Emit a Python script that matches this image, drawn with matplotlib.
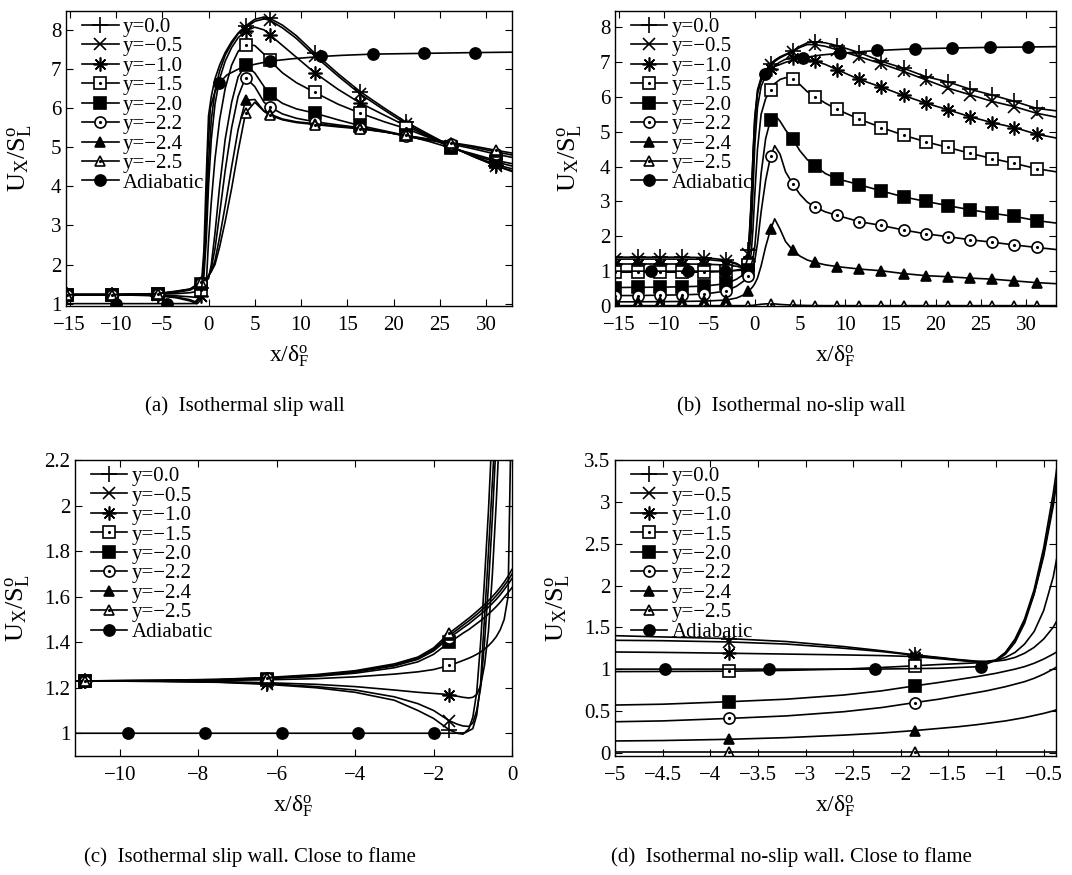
import matplotlib
matplotlib.use('Agg')
import matplotlib.pyplot as plt
from matplotlib.ticker import FuncFormatter

plt.rcParams['font.family'] = ['Liberation Serif', 'DejaVu Serif']
plt.rcParams['mathtext.fontset'] = 'custom'
plt.rcParams['mathtext.rm'] = 'Liberation Serif'
plt.rcParams['mathtext.it'] = 'Liberation Serif:italic'

labels = ['y=0.0', 'y=\u22120.5', 'y=\u22121.0', 'y=\u22121.5', 'y=\u22122.0',
          'y=\u22122.2', 'y=\u22122.4', 'y=\u22122.5', 'Adiabatic']

# ---- (a) isothermal slip wall ----
xa = [-15.3, -10.4, -5.5, -3.5, -2.0, -1.3, -0.8, -0.5, -0.25, 0.0, 0.3, 0.7, 1.2, 1.8, 2.5, 3.2,
      4.0, 5.0, 6.0, 6.6, 8.0, 9.5, 11.5, 14.0, 16.4, 19.0, 21.3, 23.8, 26.2, 28.6, 31.1, 32.8]
a_mark = [0, 1, 2, 6, 16, 19, 22, 24, 26, 28, 30]
a_y00 = [1.23, 1.23, 1.20, 1.15, 1.07, 1.0, 1.4, 2.35, 4.2, 5.8, 6.3, 6.75, 7.1, 7.42, 7.7, 7.92,
         8.1, 8.27, 8.33, 8.3, 8.12, 7.85, 7.4, 6.88, 6.42, 6.0, 5.65, 5.33, 5.03, 4.77, 4.52, 4.38]
a_y05 = [1.23, 1.23, 1.21, 1.17, 1.10, 1.035, 1.2, 1.95, 3.0, 4.6, 5.7, 6.45, 6.95, 7.35, 7.65, 7.9,
         8.05, 8.22, 8.28, 8.25, 8.05, 7.78, 7.33, 6.82, 6.36, 5.95, 5.6, 5.3, 5.02, 4.76, 4.52, 4.4]
a_y10 = [1.23, 1.23, 1.215, 1.20, 1.175, 1.16, 1.2, 1.7, 2.6, 4.0, 5.2, 6.1, 6.75, 7.2, 7.55, 7.8,
         7.97, 8.07, 8.0, 7.88, 7.6, 7.3, 6.9, 6.48, 6.13, 5.82, 5.55, 5.27, 5.0, 4.78, 4.55, 4.45]
a_y15 = [1.23, 1.23, 1.24, 1.255, 1.28, 1.31, 1.357, 1.403, 1.48, 2.6, 3.6, 4.7, 5.7, 6.5, 7.1, 7.45,
         7.62, 7.6, 7.38, 7.22, 6.9, 6.65, 6.4, 6.1, 5.87, 5.65, 5.48, 5.25, 5.0, 4.8, 4.62, 4.52]
a_y20 = [1.23, 1.23, 1.25, 1.29, 1.347, 1.43, 1.495, 1.54, 1.585, 1.64, 2.0, 2.8, 4.0, 5.2, 6.15, 6.8,
         7.1, 6.9, 6.55, 6.35, 6.12, 5.98, 5.87, 5.7, 5.55, 5.42, 5.3, 5.15, 4.98, 4.83, 4.66, 4.58]
a_y22 = [1.23, 1.23, 1.253, 1.30, 1.362, 1.455, 1.523, 1.571, 1.62, 1.68, 1.9, 2.4, 3.3, 4.4, 5.5, 6.3,
         6.78, 6.55, 6.15, 6.03, 5.85, 5.74, 5.65, 5.57, 5.5, 5.4, 5.28, 5.18, 5.08, 4.96, 4.82, 4.74]
a_y24 = [1.23, 1.23, 1.255, 1.31, 1.368, 1.47, 1.537, 1.586, 1.64, 1.70, 1.83, 2.1, 2.7, 3.5, 4.5, 5.45,
         6.2, 6.22, 5.92, 5.85, 5.72, 5.65, 5.6, 5.54, 5.48, 5.39, 5.3, 5.2, 5.1, 5.0, 4.88, 4.8]
a_y25 = [1.23, 1.23, 1.258, 1.32, 1.375, 1.48, 1.55, 1.601, 1.65, 1.72, 1.82, 2.0, 2.45, 3.1, 3.95, 4.9,
         5.87, 6.15, 5.92, 5.82, 5.7, 5.63, 5.58, 5.52, 5.47, 5.39, 5.3, 5.21, 5.12, 5.03, 4.92, 4.85]
xa_ad = [-15.4, -10.05, -4.45, -1.2, -0.9, -0.7, -0.47, -0.3, -0.1, 0.2, 0.6, 1.1, 2.0, 3.5, 5.0,
         6.65, 9.0, 12.2, 14.5, 17.75, 23.3, 28.85, 32.8]
a_ad = [1.0, 1.0, 1.0, 1.002, 1.08, 1.5, 2.2, 3.1, 4.8, 6.0, 6.35, 6.63, 6.85, 7.03, 7.12,
        7.2, 7.26, 7.32, 7.35, 7.38, 7.4, 7.42, 7.43]
a_ad_mark = [1, 2, 11, 15, 17, 19, 20, 21]

# ---- (b) isothermal no-slip wall ----
xb = [-15.4, -12.95, -10.5, -8.05, -5.6, -3.15, -2.0, -1.2, -0.7, -0.4, -0.2, 0.0, 0.3, 0.7, 1.2,
      1.75, 2.2, 2.8, 3.4, 4.2, 5.0, 5.8, 6.65, 7.8, 9.1, 11.55, 14.0, 16.45, 18.9, 21.35, 23.8,
      26.25, 28.7, 31.15, 33.3]
b_mark = [0, 1, 2, 3, 4, 5, 8, 15, 19, 22, 24, 25, 26, 27, 28, 29, 30, 31, 32, 33]
b_y00 = [1.40, 1.40, 1.40, 1.40, 1.39, 1.32, 1.22, 1.095, 1.6, 3.0, 4.3, 5.4, 6.2, 6.55, 6.75,
         6.95, 7.05, 7.15, 7.22, 7.32, 7.45, 7.55, 7.58, 7.55, 7.47, 7.27, 7.02, 6.82, 6.58, 6.43,
         6.22, 6.05, 5.87, 5.67, 5.6]
b_y05 = [1.345, 1.345, 1.345, 1.345, 1.34, 1.28, 1.2, 1.09, 1.5, 2.85, 4.1, 5.2, 6.1, 6.5, 6.72,
         6.92, 7.02, 7.12, 7.2, 7.3, 7.42, 7.5, 7.5, 7.45, 7.35, 7.15, 6.95, 6.73, 6.49, 6.25,
         6.06, 5.87, 5.72, 5.53, 5.42]
b_y10 = [1.205, 1.205, 1.205, 1.205, 1.2, 1.175, 1.14, 1.085, 1.3, 2.1, 3.3, 4.6, 5.7, 6.3, 6.6,
         6.8, 6.9, 7.0, 7.08, 7.12, 7.12, 7.08, 7.03, 6.93, 6.78, 6.5, 6.28, 6.04, 5.82, 5.63,
         5.43, 5.26, 5.12, 4.93, 4.82]
b_y15 = [0.97, 0.97, 0.97, 0.97, 0.97, 0.99, 1.03, 1.075, 1.19, 1.5, 2.2, 3.2, 4.5, 5.5, 5.95,
         6.2, 6.38, 6.5, 6.55, 6.52, 6.35, 6.15, 6.01, 5.82, 5.64, 5.36, 5.12, 4.9, 4.71, 4.55,
         4.38, 4.23, 4.09, 3.94, 3.85]
b_y20 = [0.53, 0.535, 0.54, 0.55, 0.57, 0.64, 0.77, 0.91, 1.03, 1.18, 1.35, 1.7, 2.6, 3.8, 4.8,
         5.35, 5.48, 5.3, 5.05, 4.78, 4.45, 4.2, 4.03, 3.8, 3.65, 3.48, 3.3, 3.13, 3.0, 2.88,
         2.76, 2.66, 2.57, 2.45, 2.38]
b_y22 = [0.30, 0.30, 0.31, 0.32, 0.34, 0.43, 0.57, 0.72, 0.85, 0.98, 1.1, 1.3, 1.8, 2.7, 3.6,
         4.3, 4.6, 4.35, 3.85, 3.5, 3.2, 2.98, 2.84, 2.7, 2.6, 2.42, 2.31, 2.18, 2.07, 1.99,
         1.9, 1.83, 1.75, 1.68, 1.62]
b_y24 = [0.12, 0.12, 0.125, 0.13, 0.14, 0.17, 0.23, 0.32, 0.42, 0.5, 0.56, 0.64, 0.8, 1.15, 1.7,
         2.2, 2.5, 2.2, 1.85, 1.6, 1.43, 1.32, 1.25, 1.18, 1.13, 1.06, 1.01, 0.93, 0.87, 0.84,
         0.8, 0.77, 0.72, 0.67, 0.64]
b_y25 = [0.01, 0.01, 0.01, 0.01, 0.01, 0.01, 0.01, 0.01, 0.01, 0.015, 0.02, 0.025, 0.035, 0.05,
         0.06, 0.065, 0.06, 0.045, 0.035, 0.025, 0.02, 0.015, 0.012, 0.01, 0.01, 0.01, 0.01,
         0.01, 0.01, 0.01, 0.01, 0.01, 0.01, 0.01, 0.01]
xb_ad = [-15.4, -11.5, -7.4, -3.3, -1.2, -0.8, -0.6, -0.45, -0.35, -0.2, 0.0, 0.3, 0.6, 1.1, 2.0,
         3.5, 5.3, 7.3, 9.4, 13.5, 17.7, 21.85, 26.0, 30.2, 33.3]
b_ad = [1.0, 1.0, 1.0, 1.0, 1.03, 1.35, 1.9, 2.6, 3.2, 4.3, 5.4, 6.1, 6.4, 6.65, 6.85, 7.0,
        7.12, 7.2, 7.25, 7.33, 7.38, 7.4, 7.42, 7.43, 7.44]
b_ad_mark = [1, 2, 3, 13, 16, 18, 19, 20, 21, 22, 23]

# ---- (c) slip wall, close to flame ----
xc = [-11.2, -10.9, -9.0, -7.5, -6.25, -5.0, -4.0, -3.0, -2.4, -2.0, -1.6, -1.4, -1.25, -1.1,
      -1.0, -0.9, -0.8, -0.7, -0.6, -0.5, -0.4, -0.3, -0.2, -0.1, 0.0]
c_mark = [1, 4, 10]
c_y00 = [1.23, 1.23, 1.228, 1.224, 1.215, 1.20, 1.18, 1.145, 1.10, 1.065, 1.015, 1.0, 0.996,
         1.02, 1.07, 1.18, 1.4, 1.68, 1.98, 2.35, 2.8, 3.8, 4.5, 5.2, 5.8]
c_y05 = [1.23, 1.23, 1.228, 1.225, 1.218, 1.205, 1.19, 1.16, 1.13, 1.10, 1.055, 1.04, 1.032,
         1.03, 1.045, 1.10, 1.20, 1.40, 1.65, 1.95, 2.3, 2.8, 3.4, 4.0, 4.6]
c_y10 = [1.23, 1.23, 1.229, 1.227, 1.222, 1.215, 1.205, 1.19, 1.18, 1.175, 1.17, 1.163, 1.158,
         1.155, 1.158, 1.17, 1.21, 1.30, 1.45, 1.70, 2.02, 2.4, 2.9, 3.4, 4.0]
c_y15 = [1.23, 1.23, 1.23, 1.232, 1.235, 1.24, 1.248, 1.26, 1.27, 1.28, 1.298, 1.31, 1.32,
         1.33, 1.338, 1.347, 1.357, 1.37, 1.385, 1.403, 1.425, 1.455, 1.5, 1.6, 2.6]
c_y20 = [1.23, 1.23, 1.231, 1.234, 1.24, 1.25, 1.264, 1.288, 1.314, 1.347, 1.40, 1.422, 1.44,
         1.456, 1.469, 1.482, 1.495, 1.509, 1.524, 1.54, 1.557, 1.576, 1.597, 1.618, 1.64]
c_y22 = [1.23, 1.23, 1.232, 1.235, 1.242, 1.253, 1.269, 1.296, 1.325, 1.362, 1.42, 1.444, 1.463,
         1.481, 1.495, 1.509, 1.523, 1.538, 1.554, 1.571, 1.589, 1.609, 1.631, 1.655, 1.68]
c_y24 = [1.23, 1.23, 1.232, 1.236, 1.243, 1.255, 1.272, 1.30, 1.33, 1.368, 1.43, 1.455, 1.475,
         1.494, 1.508, 1.522, 1.537, 1.553, 1.569, 1.586, 1.605, 1.625, 1.648, 1.672, 1.70]
c_y25 = [1.23, 1.23, 1.233, 1.237, 1.245, 1.258, 1.275, 1.305, 1.335, 1.375, 1.44, 1.466, 1.486,
         1.506, 1.52, 1.535, 1.55, 1.566, 1.583, 1.601, 1.62, 1.641, 1.664, 1.69, 1.72]
xc_ad = [-11.2, -9.79, -7.83, -5.87, -3.93, -1.99, -1.5, -1.2, -1.0, -0.9, -0.8, -0.74, -0.65,
         -0.55, -0.47, -0.4, -0.3]
c_ad = [1.0, 1.0, 1.0, 1.0, 1.0, 1.0, 1.0, 1.002, 1.02, 1.08, 1.22, 1.4, 1.65, 1.95, 2.2, 2.45, 2.8]
c_ad_mark = [1, 2, 3, 4, 5]

# ---- (d) no-slip wall, close to flame ----
xd = [-5.0, -4.5, -3.8, -3.2, -2.6, -2.2, -1.85, -1.6, -1.4, -1.2, -1.1, -1.0, -0.9, -0.8, -0.7,
      -0.6, -0.5, -0.4, -0.3]
d_mark = [2, 6]
d_y00 = [1.40, 1.385, 1.365, 1.33, 1.27, 1.22, 1.17, 1.14, 1.115, 1.095, 1.09, 1.11, 1.2, 1.36,
         1.6, 1.95, 2.45, 3.1, 3.9]
d_y05 = [1.345, 1.34, 1.325, 1.30, 1.25, 1.21, 1.165, 1.135, 1.11, 1.09, 1.09, 1.10, 1.18, 1.32,
         1.55, 1.9, 2.38, 3.0, 3.75]
d_y10 = [1.205, 1.20, 1.19, 1.18, 1.17, 1.162, 1.15, 1.125, 1.105, 1.085, 1.09, 1.10, 1.14, 1.2,
         1.3, 1.45, 1.7, 2.1, 2.7]
d_y15 = [0.97, 0.972, 0.975, 0.985, 1.0, 1.02, 1.04, 1.055, 1.065, 1.075, 1.085, 1.095, 1.11,
         1.14, 1.19, 1.26, 1.36, 1.5, 1.7]
d_y20 = [0.57, 0.58, 0.61, 0.64, 0.69, 0.74, 0.80, 0.84, 0.875, 0.91, 0.93, 0.95, 0.975, 1.0,
         1.03, 1.07, 1.12, 1.18, 1.25]
d_y22 = [0.37, 0.38, 0.41, 0.44, 0.49, 0.54, 0.60, 0.64, 0.68, 0.72, 0.74, 0.765, 0.79, 0.82,
         0.85, 0.89, 0.94, 1.0, 1.07]
d_y24 = [0.14, 0.145, 0.16, 0.18, 0.21, 0.235, 0.265, 0.29, 0.31, 0.335, 0.35, 0.365, 0.38, 0.40,
         0.42, 0.445, 0.47, 0.50, 0.54]
d_y25 = [0.01, 0.01, 0.01, 0.01, 0.01, 0.01, 0.01, 0.01, 0.01, 0.01, 0.01, 0.01, 0.01, 0.01,
         0.01, 0.01, 0.01, 0.01, 0.01]
xd_ad = [-5.0, -4.48, -3.38, -2.27, -1.6, -1.16, -1.1, -1.0, -0.9, -0.8, -0.7, -0.6, -0.5, -0.4,
         -0.33, -0.3]
d_ad = [1.0, 1.0, 1.0, 1.0, 1.01, 1.03, 1.06, 1.11, 1.2, 1.35, 1.58, 1.9, 2.35, 2.95, 3.5, 3.75]
d_ad_mark = [1, 2, 3, 5]

# marker styles: (marker, size, filled)
styles = [('+', 11, True), ('x', 8, True), ((8, 2, 0), 10, True), ('s', 8, False),
          ('s', 8, True), ('o', 8, False), ('^', 6.5, True), ('^', 7, False), ('o', 8, True)]

panels = [
    (xa, [a_y00, a_y05, a_y10, a_y15, a_y20, a_y22, a_y24, a_y25], a_mark, xa_ad, a_ad, a_ad_mark,
     (-15.4, 32.8), (0.94, 8.48), [-15, -10, -5, 0, 5, 10, 15, 20, 25, 30], [1, 2, 3, 4, 5, 6, 7, 8],
     [0.0616, 0.6503, 0.416, 0.337], -0.072, '(a)  Isothermal slip wall'),
    (xb, [b_y00, b_y05, b_y10, b_y15, b_y20, b_y22, b_y24, b_y25], b_mark, xb_ad, b_ad, b_ad_mark,
     (-15.45, 33.3), (0, 8.46), [-15, -10, -5, 0, 5, 10, 15, 20, 25, 30], [0, 1, 2, 3, 4, 5, 6, 7, 8],
     [0.5737, 0.6503, 0.4114, 0.337], -0.070, '(b)  Isothermal no-slip wall'),
    (xc, [c_y00, c_y05, c_y10, c_y15, c_y20, c_y22, c_y24, c_y25], c_mark, xc_ad, c_ad, c_ad_mark,
     (-11.15, 0), (0.9, 2.2), [-10, -8, -6, -4, -2, 0], [1, 1.2, 1.4, 1.6, 1.8, 2, 2.2],
     [0.070, 0.136, 0.4076, 0.338], -0.098, '(c)  Isothermal slip wall. Close to flame'),
    (xd, [d_y00, d_y05, d_y10, d_y15, d_y20, d_y22, d_y24, d_y25], d_mark, xd_ad, d_ad, d_ad_mark,
     (-5, -0.37), (-0.04, 3.5), [-5, -4.5, -4, -3.5, -3, -2.5, -2, -1.5, -1, -0.5],
     [0, 0.5, 1, 1.5, 2, 2.5, 3, 3.5],
     [0.5737, 0.136, 0.4114, 0.338], -0.098, '(d)  Isothermal no-slip wall. Close to flame'),
]


def fmt(v, pos):
    return ('%g' % v).replace('-', '\u2212')


fig = plt.figure(figsize=(10.72, 8.75), dpi=100)

for x, ys, mk, x_ad, y_ad, mk_ad, xl, yl, xt, yt, rect, ylab_x, caption in panels:
    ax = fig.add_axes(rect)
    handles = []
    series = [(x, y, mk) for y in ys] + [(x_ad, y_ad, mk_ad)]
    for (xx, yy, idx), (m, ms, filled), lab in zip(series, styles, labels):
        ln, = ax.plot(xx, yy, color='black', lw=1.2, marker=m, ms=ms, markevery=idx,
                      mfc='black' if filled else 'white', mec='black', mew=1.2)
        if filled:
            handles.append(ln)
        else:
            # small dot in the middle of the open markers
            dot, = ax.plot([xx[i] for i in idx], [yy[i] for i in idx], ls='none',
                           marker='.', ms=2.5, color='black')
            handles.append((ln, dot))
    ax.set_xlim(*xl)
    ax.set_ylim(*yl)
    ax.set_xticks(xt)
    ax.set_yticks(yt)
    ax.xaxis.set_major_formatter(FuncFormatter(fmt))
    ax.yaxis.set_major_formatter(FuncFormatter(fmt))
    ax.tick_params(direction='in', top=True, right=True, length=5, width=0.8, labelsize=15)
    ax.tick_params(axis='x', pad=7)
    for s in ax.spines.values():
        s.set_linewidth(1.0)
    ax.set_xlabel('x/\u03b4$_\\mathrm{F}^{\\mathrm{o}}$', fontsize=17, labelpad=6)
    ax.set_ylabel('U$_\\mathrm{X}$/S$_\\mathrm{L}^{\\mathrm{o}}$', fontsize=19)
    ax.yaxis.set_label_coords(ylab_x, 0.5)
    ax.legend(handles, labels, loc='upper left', bbox_to_anchor=(0.022, 1.0), frameon=False,
              fontsize=15, handlelength=1.75, handletextpad=0.2, labelspacing=-0.005,
              borderaxespad=0.0, borderpad=0.3)
    fig.text(rect[0] + rect[2] * 0.4, rect[1] - 0.115, caption, ha='center', va='center',
             fontsize=15)

fig.savefig('out.png', dpi=100)
